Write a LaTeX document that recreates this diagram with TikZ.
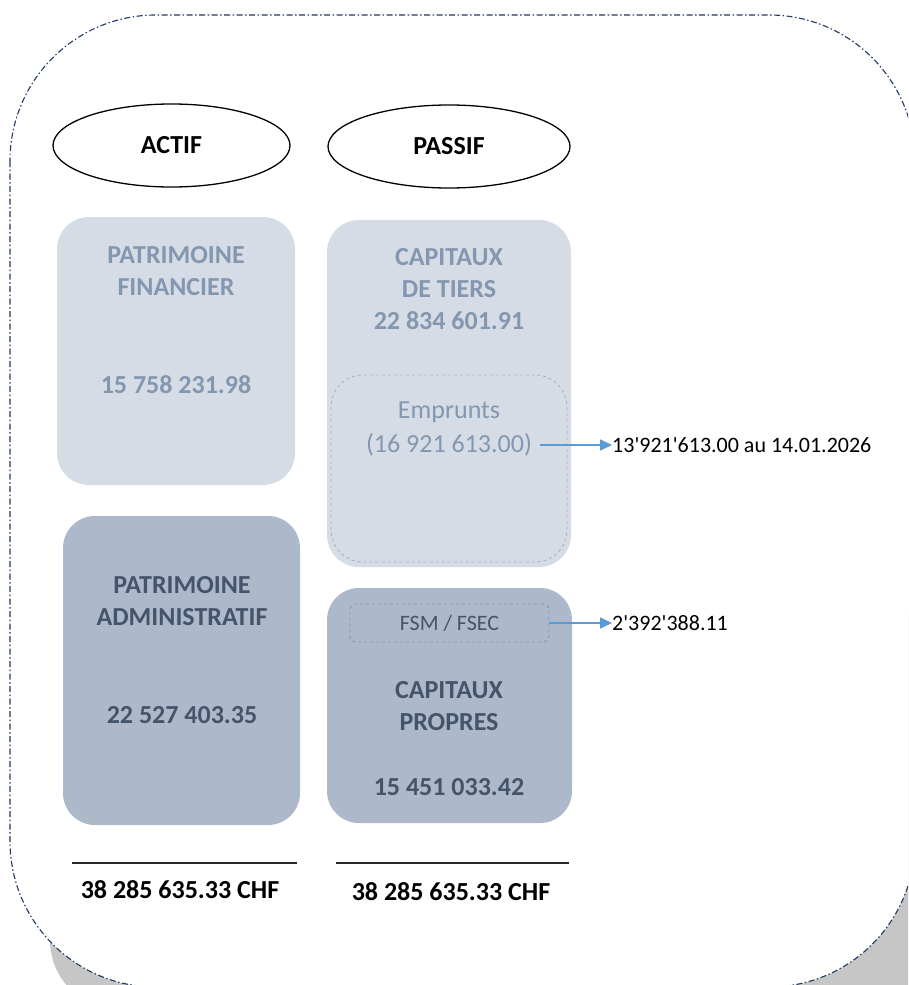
\documentclass[tikz,border=0pt]{standalone}
\usepackage{fontspec}
\setmainfont{Carlito}
\usetikzlibrary{
    shapes.geometric,
    arrows.meta
}
\definecolor{cadre}{HTML}{1F3864}
\definecolor{clair}{HTML}{D6DCE5}
\definecolor{clairtexte}{HTML}{8497B0}
\definecolor{fonce}{HTML}{ADB9CA}
\definecolor{foncetexte}{HTML}{44546A}
\definecolor{bleu}{HTML}{5B9BD5}
\tikzset{
    titre/.style={
        ellipse,
        draw=black,
        line width=1.3pt,
        font=\fontsize{26}{32}\selectfont\bfseries
    },
    bloc/.style={
        rectangle,
        rounded corners=32pt,
        inner sep=0pt
    },
    texte/.style={
        align=center,
        inner sep=0pt,
        font=\fontsize{26}{32}\selectfont\bfseries
    },
    renvoi/.style={
        anchor=west,
        inner sep=0pt,
        font=\fontsize{22}{26}\selectfont
    },
    fleche/.style={
        draw=bleu,
        line width=1.6pt,
        -{Triangle[length=12pt,width=11pt]}
    }
}
\begin{document}
\begin{tikzpicture}[
    x=1pt,
    y=-1pt
]
    \useasboundingbox (0,0) rectangle (908,985);
    \clip (0,0) rectangle (908,985);

    % Cadre
    \fill[gray!45, rounded corners=70pt] (50,600) rectangle (935,1010);
    \draw[cadre, fill=white, line width=1.1pt, rounded corners=146pt,
          dash pattern=on 6pt off 2.5pt on 1.5pt off 2.5pt]
        (10,15) rectangle (915,987);

    % Titres
    \node[titre, minimum width=237, minimum height=83] (actif)  at (171.5,145.5) {ACTIF};
    \node[titre, minimum width=242, minimum height=83] (passif) at (449,146.5)   {PASSIF};

    % Blocs
    \node[bloc, fill=clair, minimum width=238, minimum height=268] (pf) at (176,351) {};
    \node[bloc, fill=clair, minimum width=244, minimum height=347] (ct) at (449,393.5) {};
    \node[bloc, fill=clair, draw=fonce!90!gray, dashed, line width=0.9pt,
          minimum width=236, minimum height=187] (emp) at (449,468.5) {};
    \node[bloc, fill=fonce, minimum width=237, minimum height=309] (pa) at (181.5,670.5) {};
    \node[bloc, fill=fonce, minimum width=245, minimum height=235] (cp) at (449.5,705.5) {};
    \node[bloc, rounded corners=6pt, draw=clairtexte, dashed, line width=0.9pt,
          minimum width=199, minimum height=38,
          text=foncetexte, font=\fontsize{22}{26}\selectfont] (fsm) at (449.5,623) {FSM / FSEC};

    % Textes
    \node[texte, text=clairtexte] (pftitre) at (176,271)  {PATRIMOINE\\FINANCIER};
    \node[texte, text=clairtexte] (pfval)   at (176,385)  {15 758 231.98};
    \node[texte, text=clairtexte] (cttitre) at (449,289)  {CAPITAUX\\DE TIERS\\22 834 601.91};
    \node[texte, text=clairtexte, font=\fontsize{26}{32}\selectfont] (emptitre) at (449,412) {Emprunts};
    \node[texte, text=clairtexte, font=\fontsize{26}{32}\selectfont] (empval)   at (449,445) {(16 921 613.00)};
    \node[texte, text=foncetexte] (patitre) at (182,601)  {PATRIMOINE\\ADMINISTRATIF};
    \node[texte, text=foncetexte] (paval)   at (182,715)  {22 527 403.35};
    \node[texte, text=foncetexte] (cptitre) at (449,706)  {CAPITAUX\\PROPRES};
    \node[texte, text=foncetexte] (cpval)   at (449,787)  {15 451 033.42};

    % Totaux
    \draw[black!85, line width=2.4pt] (72,863) -- (297,863);
    \draw[black!85, line width=2.4pt] (336,863) -- (569,863);
    \node[texte] (totactif)  at (180,890) {38 285 635.33 CHF};
    \node[texte] (totpassif) at (451,892) {38 285 635.33 CHF};

    % Renvois
    \node[renvoi] (dette) at (612,445) {13\textquotesingle 921\textquotesingle 613.00 au 14.01.2026};
    \node[renvoi] (fonds) at (612,623) {2\textquotesingle 392\textquotesingle 388.11};

    \draw[fleche] ([xshift=8pt]empval.east) -- (dette.west);
    \draw[fleche] (fsm.east) -- (fonds.west);

\end{tikzpicture}
\end{document}
